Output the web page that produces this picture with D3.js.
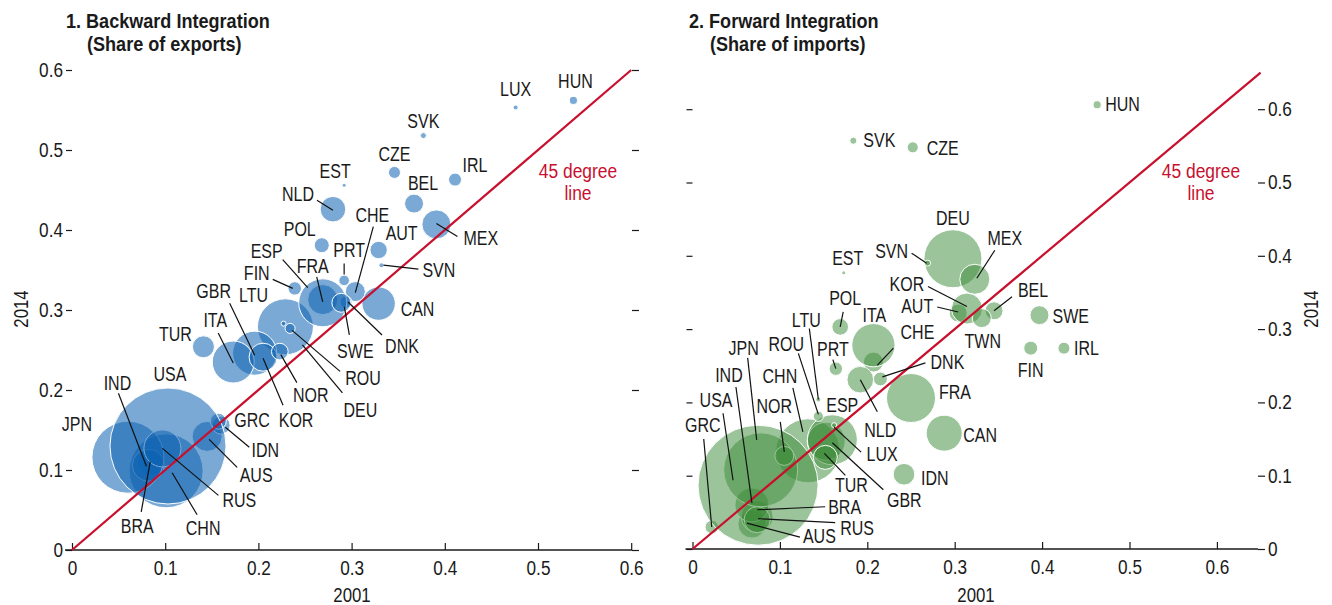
<!DOCTYPE html>
<html>
<head>
<meta charset="utf-8">
<script src="https://cdn.jsdelivr.net/npm/d3@7"></script>
<style>
  body { margin: 0; background: #fff; }
  svg text { font-family: "Liberation Sans", Arial, sans-serif; fill: #1a1a1a; }
</style>
</head>
<body>
<svg id="chart" width="1332" height="605"></svg>
<script>
// Economies, alphabetical (also the drawing order of the bubbles)
const countries = ["AUS","AUT","BEL","BRA","CAN","CHE","CHN","CZE","DEU","DNK","ESP","EST","FIN","FRA","GBR","GRC","HUN","IDN","IND","IRL","ITA","JPN","KOR","LTU","LUX","MEX","NLD","NOR","POL","PRT","ROU","RUS","SVK","SVN","SWE","TUR","TWN","USA"];

// Backward integration: foreign value added, share of exports
const backward2001 = [0.145,0.329,0.367,0.085,0.329,0.304,0.101,0.346,0.229,0.294,0.269,0.292,0.239,0.269,0.196,0.160,0.538,0.157,0.082,0.411,0.173,0.060,0.205,0.227,0.476,0.391,0.280,0.223,0.268,0.292,0.234,0.097,0.377,0.332,0.289,0.141,null,0.103];
const backward2014 = [0.142,0.375,0.433,0.109,0.308,0.323,0.099,0.472,0.279,0.310,0.313,0.456,0.327,0.309,0.246,0.156,0.562,0.161,0.106,0.463,0.235,0.116,0.241,0.283,0.553,0.407,0.426,0.248,0.381,0.337,0.277,0.127,0.518,0.356,0.309,0.254,null,0.130];
const backwardSize = [25,8.4,10,18.8,31,11.1,152,4,87,4,25,0.25,5,64,54,9,1.8,7.1,28.4,4.7,49,144,21.8,0.7,0.45,23.4,18.2,7.7,6.25,3.1,2.8,38,1,0.45,10,13.4,null,374];

// Forward integration: domestic value added in partners' exports, share of imports
const forward2001 = [0.068,0.304,0.345,0.074,0.288,0.207,0.132,0.252,0.298,0.215,0.153,0.173,0.387,0.250,0.160,0.022,0.463,0.242,0.068,0.425,0.207,0.078,0.314,0.144,0.162,0.323,0.192,0.105,0.169,0.164,0.144,0.074,0.184,0.269,0.397,0.152,0.331,0.075];
const forward2014 = [0.034,0.322,0.325,0.044,0.158,0.255,0.134,0.548,0.396,0.232,0.147,0.377,0.274,0.206,0.149,0.030,0.606,0.102,0.060,0.274,0.278,0.108,0.328,0.204,0.169,0.368,0.231,0.127,0.303,0.246,0.181,0.040,0.557,0.390,0.319,0.125,0.315,0.087];
const forwardSize = [21.8,9,9,28.4,36,11.1,113.8,3.4,93.4,5.4,40,0.25,5.4,66.7,69.4,5,1.8,13,32,4,52,152,26.7,0.45,0.7,25,19.7,10,7.7,5,2.8,18.8,1.4,1,10,16,10,400];

const tickValues = [0, 0.1, 0.2, 0.3, 0.4, 0.5, 0.6];
const xTitle = "2001";
const yTitle = "2014";

// Label placement: t = text offset from bubble centre, a = anchor, l = leader line [x1,y1,x2,y2] offsets
const backwardLabels = {
  HUN:{t:[2,-12]}, LUX:{t:[0,-12]}, SVK:{t:[0,-8]}, CZE:{t:[0,-11]}, IRL:{t:[20,-8]}, BEL:{t:[9,-14]},
  MEX:{t:[27,21],a:"start",l:[0,-1,21,12]}, EST:{t:[-9,-7]}, NLD:{t:[-35,-8],l:[-16,-9,0,1]},
  POL:{t:[-22,-9]}, CHE:{t:[17,-70],l:[18,-65,0,1]}, AUT:{t:[23,-10]}, PRT:{t:[5,-23],l:[0,-17,0,-6]},
  SVN:{t:[41,12],a:"start",l:[2,0,37,4]}, ESP:{t:[-56,-42],l:[-40,-40,-15,-12]}, FRA:{t:[-10,-30],l:[-6,-26,0,-1]},
  FIN:{t:[-38,-8],l:[-22,-9,-2,0]}, CAN:{t:[22,12],a:"start"}, LTU:{t:[-30,-22]},
  GBR:{t:[-41,-55],l:[-25,-50,0,2]}, ITA:{t:[-18,-35],l:[-15,-29,0,1]}, TUR:{t:[-28,-6]},
  SWE:{t:[14,55],l:[8,32,3,4]}, DNK:{t:[56,51],l:[36,33,2,0]}, ROU:{t:[73,57],l:[50,43,2,2]},
  NOR:{t:[31,50],l:[17,31,1,3]}, DEU:{t:[75,90],l:[57,66,17,18]}, KOR:{t:[33,70],l:[20,48,0,1]},
  USA:{t:[2,-65]}, IND:{t:[-31,-75],l:[-30,-72,-2,1]}, JPN:{t:[-51,-26]}, GRC:{t:[31,2]},
  IDN:{t:[47,36],l:[31,26,7,6]}, AUS:{t:[49,46],l:[30,31,2,3]}, RUS:{t:[77,59],l:[56,47,0,0]},
  BRA:{t:[-14,70],l:[-10,49,-1,-1]}, CHN:{t:[37,64],l:[31,44,6,2]}
};
const forwardLabels = {
  HUN:{t:[8,6],a:"start"}, SVK:{t:[10,6],a:"start"}, CZE:{t:[14,8],a:"start"}, EST:{t:[4,-8]},
  DEU:{t:[0,-34]}, SVN:{t:[-36,-5],l:[-16,-10,-1,0]}, MEX:{t:[30,-34],l:[20,-29,2,-1]},
  KOR:{t:[-60,-18],l:[-39,-22,0,-2]}, AUT:{t:[-41,0],l:[-21,-6,0,-1]}, BEL:{t:[39,-14],l:[18,-14,0,0]},
  TWN:{t:[1,30]}, SWE:{t:[13,8],a:"start"}, IRL:{t:[10,7],a:"start"}, FIN:{t:[0,29]},
  POL:{t:[5,-22],l:[3,-15,0,0]}, ITA:{t:[1,-23]}, LTU:{t:[-12,-72],l:[-9,-71,0,0]},
  CHE:{t:[44,-23],l:[20,-14,4,3]}, PRT:{t:[-3,-13],l:[-3,-9,0,0]}, ROU:{t:[-32,-65],l:[-20,-63,0,-2]},
  DNK:{t:[67,-10],l:[45,-16,2,-2]}, JPN:{t:[-17,-115],l:[-13,-112,-4,-30]}, IND:{t:[-23,-123],l:[-16,-118,0,-2]},
  CHN:{t:[-28,-68],l:[-15,-63,-5,-19]}, USA:{t:[-42,-78],l:[-35,-72,-25,-5]}, NOR:{t:[-10,-43],l:[-4,-34,0,-4]},
  ESP:{t:[16,-29]}, GRC:{t:[-9,-95],l:[-8,-88,0,0]}, NLD:{t:[20,57],l:[17,32,0,0]},
  LUX:{t:[48,36],l:[27,27,0,2]}, CAN:{t:[19,9],a:"start"}, TUR:{t:[26,35],l:[20,18,-1,-4]},
  GBR:{t:[72,67],l:[51,50,0,3]}, IDN:{t:[17,11],a:"start"}, FRA:{t:[28,1],a:"start"},
  BRA:{t:[71,-3],a:"start",l:[68,-10,0,-7]}, RUS:{t:[83,15],a:"start",l:[78,3,1,-1]},
  AUS:{t:[51,19],a:"start",l:[48,13,-5,-1]}
};

const svg = d3.select("#chart");
const red = "#c8102e";
const fontSize = 20;
const radius = d3.scaleSqrt().domain([0, 100]).range([0, 30]);
const fmt = d => d === 0 ? "0" : d3.format(".1f")(d);

// Narrow the glyphs horizontally to get a condensed face
function condense(sel, k) {
  sel.each(function () {
    const w = this.getComputedTextLength();
    if (w > 0) d3.select(this).attr("textLength", w * k).attr("lengthAdjust", "spacingAndGlyphs");
  });
}

function drawPanel(cfg) {
  const g = svg.append("g");
  const x = d3.scaleLinear().domain([0, 0.6]).range(cfg.xRange);
  const y = d3.scaleLinear().domain([0, 0.6]).range(cfg.yRange);
  const rows = countries.map((c, i) => ({ c, x: cfg.xs[i], y: cfg.ys[i], s: cfg.sizes[i] }))
    .filter(d => d.x != null);

  // y axes (left and right)
  const yl = g.append("g").attr("transform", `translate(${x(0)},0)`)
    .call(d3.axisLeft(y).tickValues(tickValues).tickSize(6).tickPadding(3)
      .tickFormat(cfg.labelsLeft ? fmt : () => ""));
  const yr = g.append("g").attr("transform", `translate(${cfg.rightAxisX},0)`)
    .call(d3.axisRight(y).tickValues(tickValues).tickSize(7).tickPadding(3)
      .tickFormat(cfg.labelsLeft ? () => "" : fmt));
  [yl, yr].forEach(a => {
    a.select(".domain").remove();
    a.selectAll("line").attr("stroke", "#1a1a1a").attr("stroke-width", 1.2);
    a.selectAll("text").style("font-size", fontSize + "px").attr("fill", "#1a1a1a").call(condense, 0.86);
  });

  // x axis
  const xa = g.append("g").attr("transform", `translate(0,${y(0)})`)
    .call(d3.axisBottom(x).tickValues(tickValues).tickSizeInner(-7).tickSizeOuter(0).tickPadding(11).tickFormat(fmt));
  xa.select(".domain").remove();
  xa.selectAll("line").attr("stroke", "#1a1a1a").attr("stroke-width", 1.2);
  xa.selectAll("text").style("font-size", fontSize + "px").attr("fill", "#1a1a1a").call(condense, 0.86);
  g.append("line").attr("x1", x(0) - 7).attr("x2", cfg.rightAxisX)
    .attr("y1", y(0)).attr("y2", y(0)).attr("stroke", "#1a1a1a").attr("stroke-width", 1.5);

  // bubbles
  g.append("g").selectAll("circle").data(rows).join("circle")
    .attr("cx", d => x(d.x)).attr("cy", d => y(d.y)).attr("r", d => radius(d.s))
    .attr("fill", cfg.fill).attr("fill-opacity", cfg.alpha)
    .attr("stroke", d => radius(d.s) > 2.5 ? "#fff" : "none").attr("stroke-width", 1);

  // 45 degree line and its note
  g.append("line").attr("x1", x(0)).attr("y1", y(0))
    .attr("x2", x(cfg.lineEnd)).attr("y2", y(cfg.lineEnd))
    .attr("stroke", red).attr("stroke-width", 2.2);
  ["45 degree", "line"].forEach((s, i) => {
    g.append("text").attr("x", cfg.noteX).attr("y", cfg.noteY + i * 22)
      .attr("text-anchor", "middle").style("font-size", fontSize + "px").style("fill", red)
      .text(s).call(condense, 0.87);
  });

  // leaders and labels
  const lab = rows.map(d => ({ ...d, L: cfg.labels[d.c] })).filter(d => d.L);
  g.append("g").selectAll("line").data(lab.filter(d => d.L.l)).join("line")
    .attr("x1", d => x(d.x) + d.L.l[0]).attr("y1", d => y(d.y) + d.L.l[1])
    .attr("x2", d => x(d.x) + d.L.l[2]).attr("y2", d => y(d.y) + d.L.l[3])
    .attr("stroke", "#111").attr("stroke-width", 1.2);
  g.append("g").selectAll("text").data(lab).join("text")
    .attr("x", d => x(d.x) + d.L.t[0]).attr("y", d => y(d.y) + d.L.t[1])
    .attr("text-anchor", d => d.L.a || "middle")
    .style("font-size", fontSize + "px").text(d => d.c).call(condense, 0.8);

  // panel title
  cfg.title.forEach((s, i) => {
    g.append("text").attr("x", cfg.titleX + i * 21).attr("y", 28 + i * 23)
      .style("font-size", "21px").style("font-weight", "bold").text(s).call(condense, 0.86);
  });

  g.append("text").attr("x", cfg.xTitleX).attr("y", 602).attr("text-anchor", "middle")
    .style("font-size", fontSize + "px").text(xTitle).call(condense, 0.84);
  g.append("text").attr("transform", `translate(${cfg.yTitleX},309) rotate(-90)`)
    .attr("text-anchor", "middle").style("font-size", fontSize + "px").text(yTitle).call(condense, 0.84);
}

drawPanel({
  xs: backward2001, ys: backward2014, sizes: backwardSize, labels: backwardLabels,
  xRange: [72, 631.2], yRange: [550, 70], rightAxisX: 632, labelsLeft: true,
  fill: "#0d63b3", alpha: 0.55, lineEnd: 0.6, noteX: 578, noteY: 178,
  title: ["1. Backward Integration", "(Share of exports)"], titleX: 66,
  xTitleX: 352, yTitleX: 28
});
drawPanel({
  xs: forward2001, ys: forward2014, sizes: forwardSize, labels: forwardLabels,
  xRange: [692.5, 1216.9], yRange: [549, 109.2], rightAxisX: 1258, labelsLeft: false,
  fill: "#3a8a36", alpha: 0.5, lineEnd: 0.65, noteX: 1201, noteY: 178,
  title: ["2. Forward Integration", "(Share of imports)"], titleX: 689,
  xTitleX: 976, yTitleX: 1318
});
</script>
</body>
</html>
